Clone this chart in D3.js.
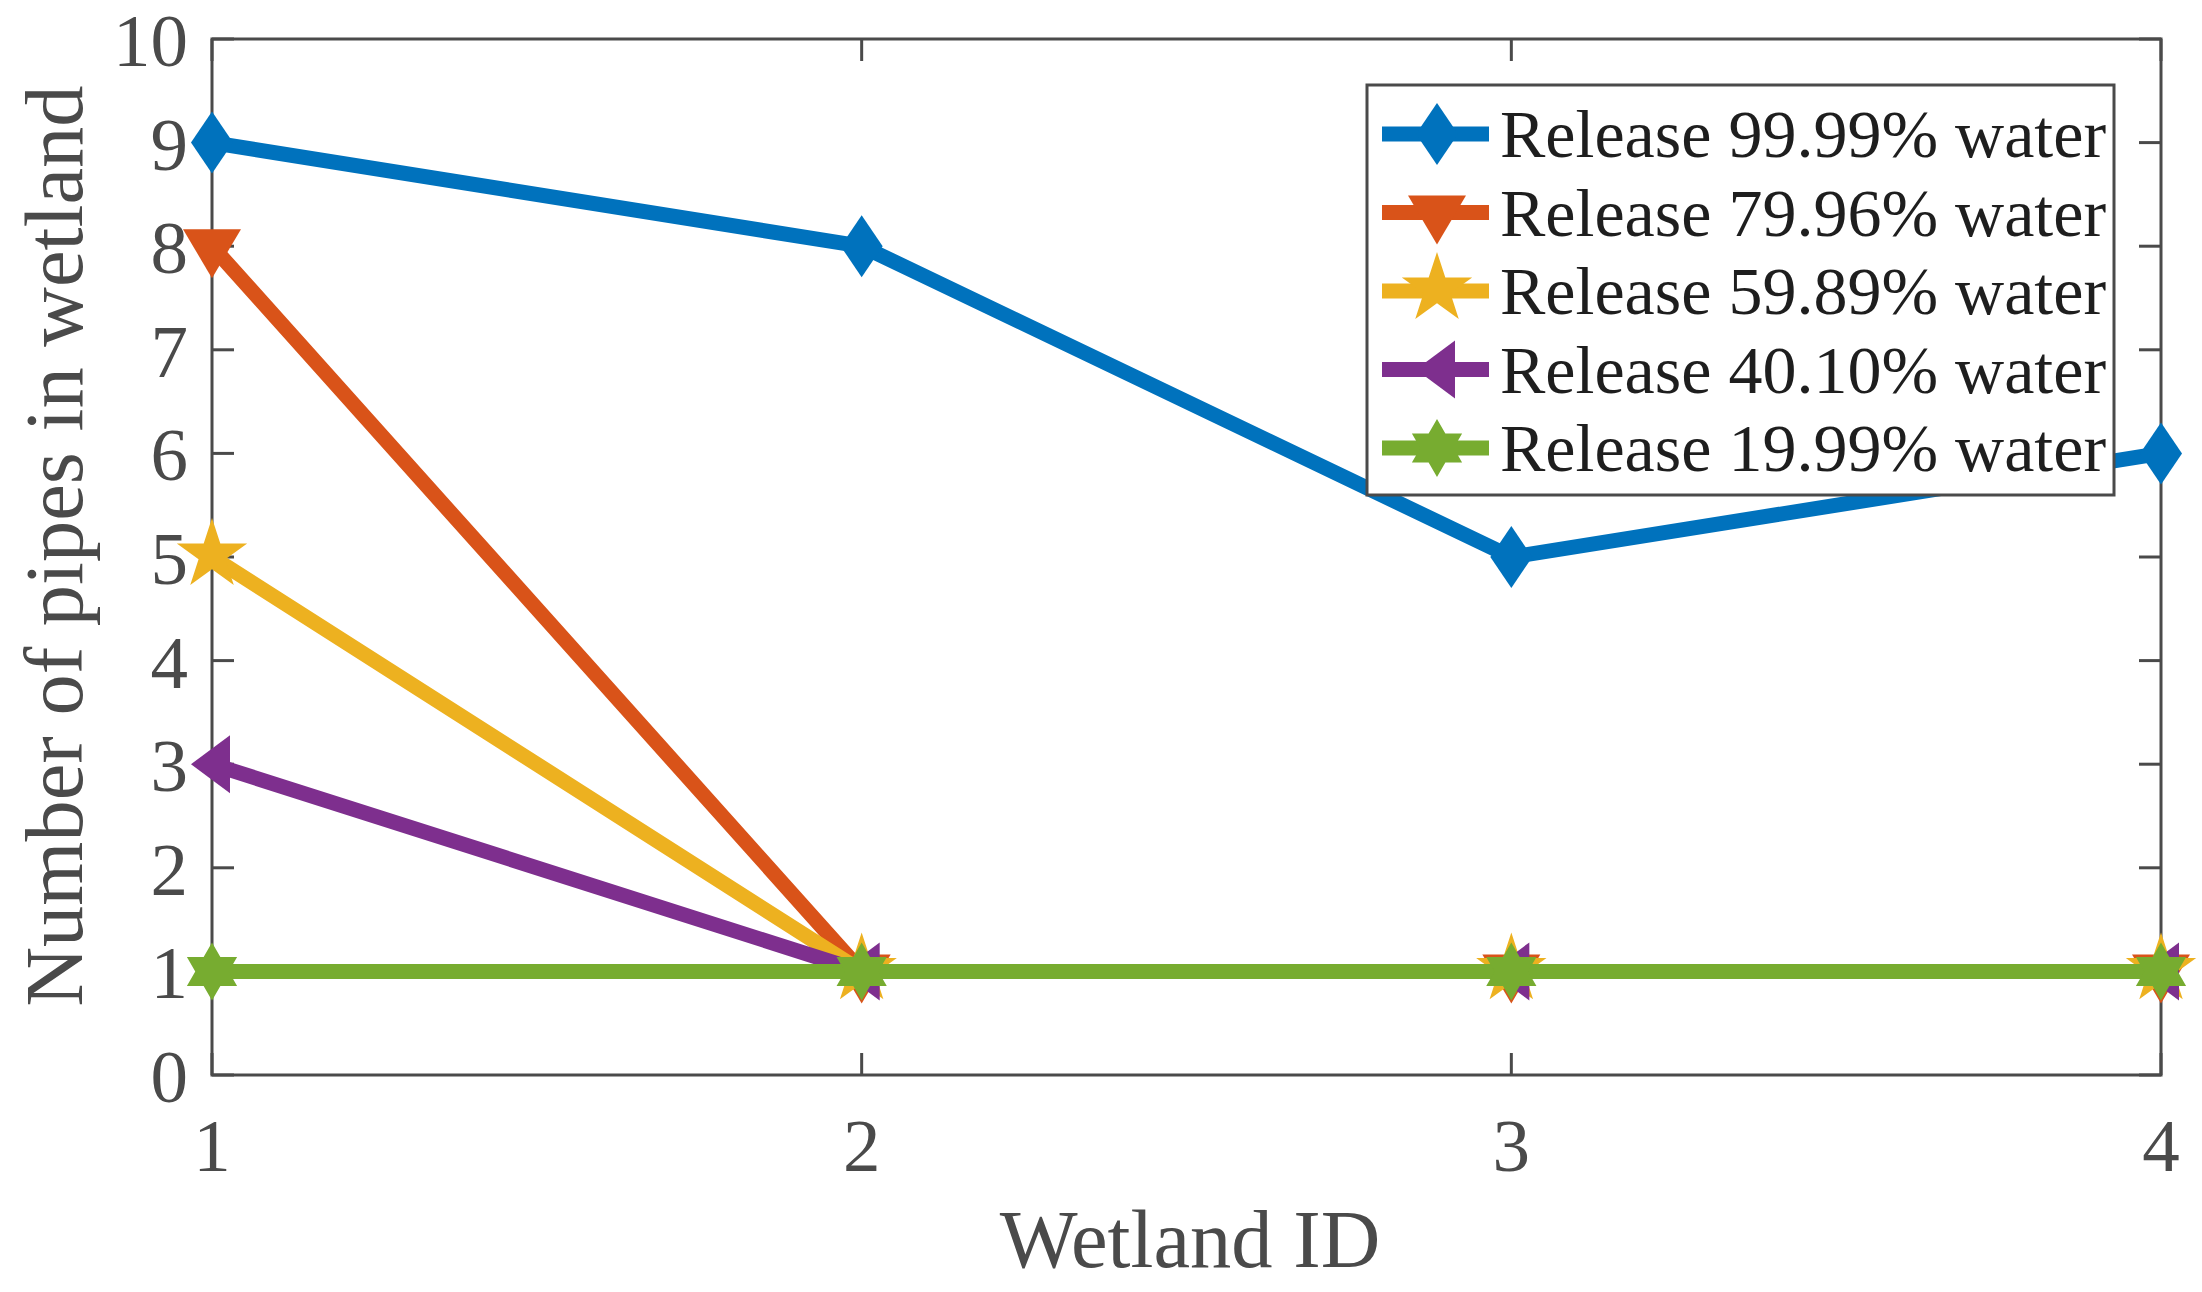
<!DOCTYPE html>
<html>
  <head>
    <meta charset="utf-8">
    <script src="https://d3js.org/d3.v7.min.js"></script>
  </head>
  <body style="margin:0; background:#fff">
    <div id="chart"></div>
    <script>
    // data
    var wetlandIds = [1, 2, 3, 4];
    var seriesNames = ["Release 99.99% water", "Release 79.96% water", "Release 59.89% water",
                       "Release 40.10% water", "Release 19.99% water"];
    var release9999 = [9, 8, 5, 6];
    var release7996 = [8, 1, 1, 1];
    var release5989 = [5, 1, 1, 1];
    var release4010 = [3, 1, 1, 1];
    var release1999 = [1, 1, 1, 1];
    var yTicks = [0, 1, 2, 3, 4, 5, 6, 7, 8, 9, 10];
    var xTicks = [1, 2, 3, 4];

    var colors = ["#0072BD", "#D95319", "#EDB120", "#7E2F8E", "#77AC30"];
    var markers = ["diamond", "down", "pentagram", "left", "hexagram"];
    var allSeries = [release9999, release7996, release5989, release4010, release1999];

    var W = 2202, H = 1292;
    var plot = {left: 212, right: 2161, top: 39, bottom: 1075};
    var axisColor = "#4a4a4a";
    var serif = "Liberation Serif";

    var svg = d3.select("#chart").append("svg")
      .attr("width", W).attr("height", H)
      .attr("font-family", serif)
      .style("background", "#fff");

    var x = d3.scaleLinear().domain([1, 4]).range([plot.left, plot.right]);
    var y = d3.scaleLinear().domain([0, 10]).range([plot.bottom, plot.top]);

    // marker shapes, sizes in px
    function star(n, outer, inner, dy) {
      var pts = [];
      for (var k = 0; k < 2 * n; k++) {
        var r = k % 2 === 0 ? outer : inner;
        var a = -Math.PI / 2 + k * Math.PI / n;
        pts.push([r * Math.cos(a), r * Math.sin(a) + dy]);
      }
      return "M" + pts.map(function (p) { return p[0].toFixed(2) + "," + p[1].toFixed(2); }).join("L") + "Z";
    }
    var markerPath = {
      diamond: "M0,-31L21,0L0,31L-21,0Z",
      down: "M-29,-17L29,-17L0,32Z",
      pentagram: star(5, 37, 37 * 0.382, -2),
      left: "M-21,0L18,-29L18,29Z",
      hexagram: star(6, 29, 29 / Math.sqrt(3), 0)
    };

    // axes box
    svg.append("rect")
      .attr("x", plot.left).attr("y", plot.top)
      .attr("width", plot.right - plot.left).attr("height", plot.bottom - plot.top)
      .attr("fill", "none").attr("stroke", axisColor).attr("stroke-width", 3);

    // inward ticks
    var tickLen = 22;
    var gAxis = svg.append("g").attr("stroke", axisColor).attr("stroke-width", 3);
    yTicks.forEach(function (t) {
      gAxis.append("line").attr("x1", plot.left).attr("x2", plot.left + tickLen)
        .attr("y1", y(t)).attr("y2", y(t));
      gAxis.append("line").attr("x1", plot.right).attr("x2", plot.right - tickLen)
        .attr("y1", y(t)).attr("y2", y(t));
    });
    xTicks.forEach(function (t) {
      gAxis.append("line").attr("x1", x(t)).attr("x2", x(t))
        .attr("y1", plot.bottom).attr("y2", plot.bottom - tickLen);
      gAxis.append("line").attr("x1", x(t)).attr("x2", x(t))
        .attr("y1", plot.top).attr("y2", plot.top + tickLen);
    });

    // tick labels
    svg.append("g").selectAll("text").data(yTicks).join("text")
      .attr("x", plot.left - 24).attr("y", function (d) { return y(d) + 27; })
      .attr("font-family", serif)
      .attr("text-anchor", "end").attr("font-size", 75).attr("fill", axisColor)
      .text(function (d) { return d; });
    svg.append("g").selectAll("text").data(xTicks).join("text")
      .attr("x", function (d) { return x(d); }).attr("y", 1171)
      .attr("font-family", serif)
      .attr("text-anchor", "middle").attr("font-size", 75).attr("fill", axisColor)
      .text(function (d) { return d; });

    // axis labels
    svg.append("text")
      .attr("x", 1190).attr("y", 1267)
      .attr("font-family", serif)
      .attr("text-anchor", "middle").attr("font-size", 82.5).attr("fill", axisColor)
      .text("Wetland ID");
    svg.append("text")
      .attr("transform", "translate(82,546) rotate(-90)")
      .attr("font-family", serif)
      .attr("text-anchor", "middle").attr("font-size", 82.5).attr("fill", axisColor)
      .text("Number of pipes in wetland");

    // series
    var line = d3.line()
      .x(function (d, i) { return x(wetlandIds[i]); })
      .y(function (d) { return y(d); });

    allSeries.forEach(function (vals, s) {
      var g = svg.append("g");
      g.append("path").datum(vals)
        .attr("fill", "none").attr("stroke", colors[s]).attr("stroke-width", 15)
        .attr("stroke-linejoin", "miter")
        .attr("d", line);
      g.selectAll("path.m").data(vals).join("path").attr("class", "m")
        .attr("transform", function (d, i) { return "translate(" + x(wetlandIds[i]) + "," + y(d) + ")"; })
        .attr("d", markerPath[markers[s]])
        .attr("fill", colors[s]);
    });

    // legend
    var leg = {x: 1367, y: 85, w: 747, h: 410, row0: 134, step: 78.5};
    var gl = svg.append("g");
    gl.append("rect")
      .attr("x", leg.x).attr("y", leg.y).attr("width", leg.w).attr("height", leg.h)
      .attr("fill", "#fff").attr("stroke", axisColor).attr("stroke-width", 3);
    seriesNames.forEach(function (name, s) {
      var cy = leg.row0 + s * leg.step;
      gl.append("line").attr("x1", 1382).attr("x2", 1489).attr("y1", cy).attr("y2", cy)
        .attr("stroke", colors[s]).attr("stroke-width", 15);
      gl.append("path").attr("transform", "translate(1437," + cy + ")")
        .attr("d", markerPath[markers[s]]).attr("fill", colors[s]);
      gl.append("text").attr("x", 1500).attr("y", cy + 23)
        .attr("font-family", serif)
        .attr("font-size", 68).attr("fill", "#1e1e1e")
        .text(name);
    });
    </script>
  </body>
</html>
